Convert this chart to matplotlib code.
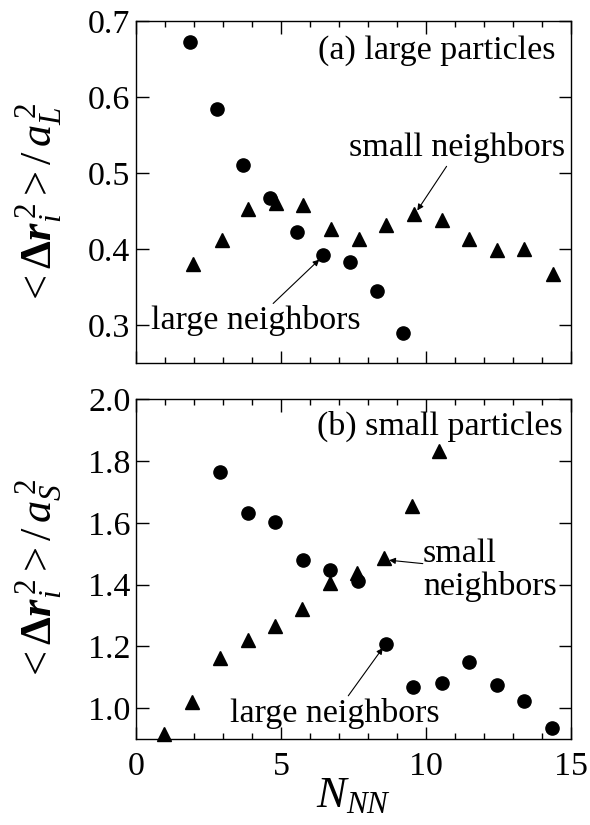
import matplotlib
matplotlib.use("Agg")
from matplotlib import pyplot as plt
from matplotlib.ticker import MultipleLocator

plt.rcParams['font.family'] = ['Liberation Serif', 'DejaVu Serif']
plt.rcParams['mathtext.fontset'] = 'custom'
plt.rcParams['mathtext.rm'] = 'Liberation Serif'
plt.rcParams['mathtext.it'] = 'Liberation Serif:italic'
plt.rcParams['mathtext.bf'] = 'Liberation Serif:bold'
plt.rcParams['mathtext.bfit'] = 'Liberation Serif:italic:bold'

# (a) large particles
a_large_x = [1.86, 2.78, 3.70, 4.62, 5.54, 6.46, 7.38, 8.30, 9.22]
a_large_y = [0.673, 0.585, 0.511, 0.468, 0.422, 0.392, 0.383, 0.345, 0.290]
a_small_x = [1.98, 2.95, 3.87, 4.83, 5.77, 6.72, 7.68, 8.62, 9.59, 10.54, 11.49, 12.44, 13.39, 14.37]
a_small_y = [0.380, 0.412, 0.453, 0.461, 0.458, 0.427, 0.413, 0.432, 0.446, 0.439, 0.413, 0.399, 0.400, 0.368]

# (b) small particles
b_large_x = [2.90, 3.85, 4.79, 5.75, 6.69, 7.67, 8.62, 9.56, 10.54, 11.48, 12.44, 13.38, 14.33]
b_large_y = [1.765, 1.631, 1.604, 1.481, 1.447, 1.412, 1.208, 1.067, 1.083, 1.149, 1.075, 1.024, 0.936]
b_small_x = [0.98, 1.94, 2.90, 3.85, 4.79, 5.71, 6.69, 7.61, 8.55, 9.51, 10.46]
b_small_y = [0.915, 1.019, 1.161, 1.222, 1.265, 1.320, 1.406, 1.436, 1.487, 1.656, 1.832]

fs = 24.5
arrow = dict(arrowstyle='-|>', lw=0.8, color='black', mutation_scale=9,
             shrinkA=0, shrinkB=0)

fig = plt.figure(figsize=(5.9, 8.25), dpi=100)
ax1 = fig.add_axes([0.2305, 0.5596, 0.7373, 0.4149])
ax2 = fig.add_axes([0.2305, 0.1042, 0.7373, 0.4118])

for ax in (ax1, ax2):
    ax.set_xlim(0, 15)
    ax.xaxis.set_major_locator(MultipleLocator(5))
    ax.xaxis.set_minor_locator(MultipleLocator(1))
    ax.tick_params(which='both', direction='in', top=True, right=True, width=1)
    ax.tick_params(which='major', length=9, labelsize=fs)
    ax.tick_params(which='minor', length=4)
    ax.tick_params(axis='y', pad=4)
    ax.tick_params(axis='x', pad=9)
    for s in ax.spines.values():
        s.set_linewidth(1)

# top panel
ax1.plot(a_large_x, a_large_y, 'o', color='black', ms=9.5, ls='none', clip_on=False)
ax1.plot(a_small_x, a_small_y, '^', color='black', ms=10.5, ls='none', clip_on=False)
ax1.set_ylim(0.25, 0.7)
ax1.set_yticks([0.3, 0.4, 0.5, 0.6, 0.7])
ax1.set_yticklabels(['0.3', '0.4', '0.5', '0.6', '0.7'])
ax1.tick_params(axis='x', labelbottom=False)
ax1.text(14.48, 0.651, '(a) large particles', ha='right', va='baseline', fontsize=fs)
ax1.text(14.79, 0.5227, 'small neighbors', ha='right', va='baseline', fontsize=fs)
ax1.text(0.51, 0.2946, 'large neighbors', ha='left', va='baseline', fontsize=fs)
ax1.annotate('', xy=(9.70, 0.451), xytext=(10.71, 0.509), arrowprops=arrow)
ax1.annotate('', xy=(6.32, 0.3864), xytext=(4.73, 0.3287), arrowprops=arrow)
ax1.text(-0.222, 0.465, r'$<\mathbf{\Delta}\mathbfit{r}_{i}^{\,2}>/\,a_{L}^{\,2}$',
         transform=ax1.transAxes, rotation=90, ha='center', va='center', fontsize=32)

# bottom panel
ax2.plot(b_large_x, b_large_y, 'o', color='black', ms=9.5, ls='none', clip_on=False)
ax2.plot(b_small_x, b_small_y, '^', color='black', ms=10.5, ls='none', clip_on=False)
ax2.set_ylim(0.9, 2.0)
ax2.set_yticks([1.0, 1.2, 1.4, 1.6, 1.8, 2.0])
ax2.set_yticklabels(['1.0', '1.2', '1.4', '1.6', '1.8', '2.0'])
ax2.text(14.72, 1.885, '(b) small particles', ha='right', va='baseline', fontsize=fs)
ax2.text(9.90, 1.4735, 'small', ha='left', va='baseline', fontsize=fs)
ax2.text(9.90, 1.3666, 'neighbors', ha='left', va='baseline', fontsize=fs)
ax2.text(3.24, 0.9544, 'large neighbors', ha='left', va='baseline', fontsize=fs)
ax2.annotate('', xy=(8.73, 1.479), xytext=(9.89, 1.468), arrowprops=arrow)
ax2.annotate('', xy=(8.51, 1.195), xytext=(7.32, 1.040), arrowprops=arrow)
ax2.text(-0.222, 0.468, r'$<\mathbf{\Delta}\mathbfit{r}_{i}^{\,2}>/\,a_{S}^{\,2}$',
         transform=ax2.transAxes, rotation=90, ha='center', va='center', fontsize=32)
ax2.set_xticks([0, 5, 10, 15])
ax2.set_xticklabels(['0', '5', '10', '15'])
ax2.set_xlabel(r'$N_{NN}$', fontsize=32, labelpad=-4)

fig.savefig('out.png', dpi=100)
